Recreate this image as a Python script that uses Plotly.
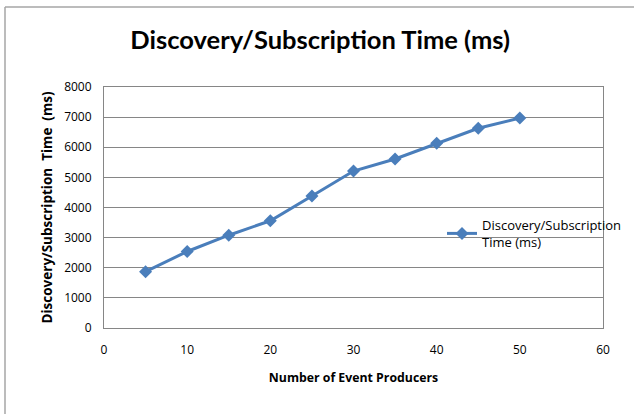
import plotly.graph_objects as go

producers = [5, 10, 15, 20, 25, 30, 35, 40, 45, 50]
times_ms = [1870, 2540, 3080, 3560, 4380, 5210, 5610, 6130, 6630, 6970]

series_name = "Discovery/Subscription<br>Time (ms)"
title_text = "Discovery/Subscription Time (ms)"
x_title = "Number of Event Producers"
y_title = "Discovery/Subscription  Time  (ms)"

L, R, T, B = 104, 31, 87, 86
W, H = 634, 414
pw, ph = W - L - R, H - T - B

def px_x(p):
    return (p - L) / pw

def px_y(p):
    return (H - B - p) / ph

fig = go.Figure()
fig.add_trace(go.Scatter(
    x=producers, y=times_ms, mode="lines+markers", name=series_name,
    line=dict(color="#4A7EBB", width=3),
    marker=dict(symbol="diamond", size=10, color="#4A7EBB"),
))

title_font = "Lato, Carlito, Calibri, sans-serif"
body_font = "Open Sans, sans-serif"

fig.update_layout(
    width=W, height=H,
    margin=dict(l=L, r=R, t=T, b=B, autoexpand=False),
    paper_bgcolor="white", plot_bgcolor="white",
    font=dict(family=body_font, size=12, color="#000000"),
    title=dict(text="<b>" + title_text + "</b>", x=0.505, xref="container", xanchor="center",
               y=1 - 40 / H, yanchor="middle", font=dict(size=25.5, family=title_font)),
    showlegend=True,
    legend=dict(x=442 / W, y=1 - 210 / H, xref="container", yref="container",
                xanchor="left", yanchor="top",
                bgcolor="rgba(0,0,0,0)", font=dict(size=13, family=body_font),
                itemwidth=30),
    xaxis=dict(range=[0, 60], tickvals=[0, 10, 20, 30, 40, 50, 60],
               showgrid=False, zeroline=False, showline=True, linecolor="#868686",
               linewidth=1, mirror=True, ticks="", tickfont=dict(size=12),
               ticklabelstandoff=11, automargin=False,
               title=dict(text="<b>" + x_title + "</b>", font=dict(size=12.3), standoff=15)),
    yaxis=dict(range=[0, 8000], tickvals=list(range(0, 8001, 1000)),
               showgrid=True, gridcolor="#868686", gridwidth=1, zeroline=False,
               showline=True, linecolor="#868686", linewidth=1, mirror=True,
               ticks="", tickfont=dict(size=12), ticklabelstandoff=9, automargin=False,
               title=dict(text="<b>" + y_title + "</b>", font=dict(size=13.5), standoff=8)),
    shapes=[
        dict(type="line", xref="paper", yref="paper", x0=px_x(5), x1=px_x(5),
             y0=px_y(7), y1=px_y(420), line=dict(color="#A6A6A6", width=1.5)),
        dict(type="line", xref="paper", yref="paper", x0=px_x(5), x1=px_x(640),
             y0=px_y(7), y1=px_y(7), line=dict(color="#A6A6A6", width=1.5)),
    ],
)

fig.write_html("out.html", config={"displayModeBar": False},
               post_script="document.body.style.margin='0';")
